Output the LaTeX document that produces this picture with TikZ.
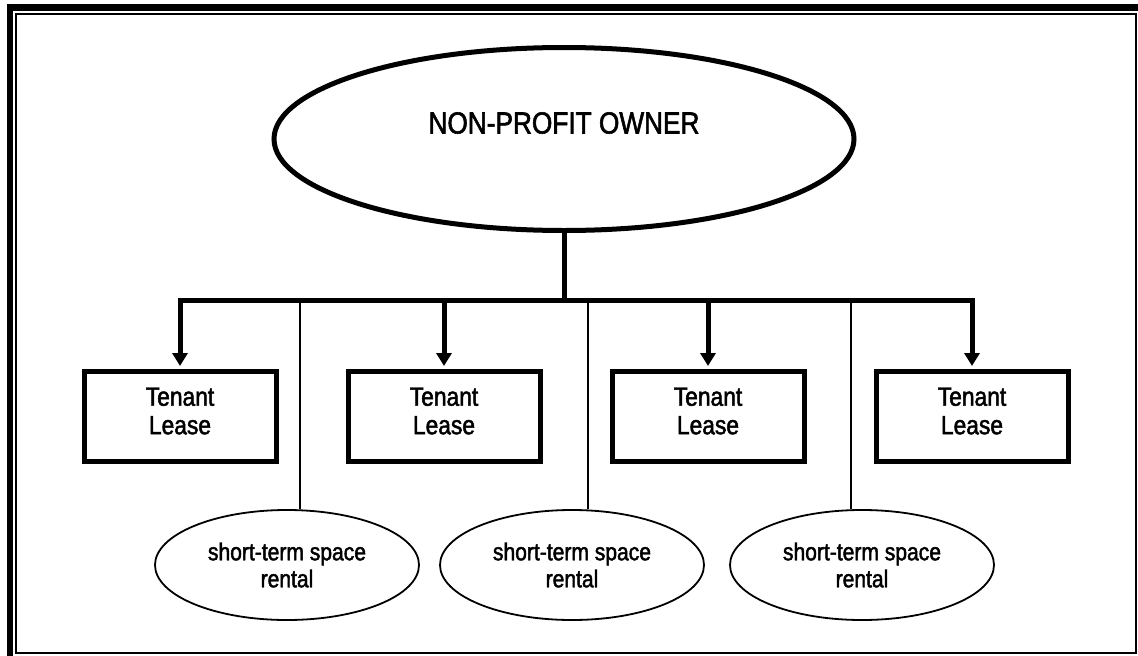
\documentclass[tikz,border=0pt]{standalone}
\usepackage{fontspec}
\setmainfont{Liberation Sans}[FakeStretch=0.86,FakeBold=1.8]
\usetikzlibrary{arrows.meta,shapes.geometric}
\begin{document}
\begin{tikzpicture}[x=1pt,y=-1pt,
  thickln/.style={line width=5pt},
  thinln/.style={line width=1.8pt},
  lease/.style={draw, line width=5pt, minimum width=192pt, minimum height=90pt, inner sep=0pt},
  leasetext/.style={align=center, font=\fontsize{26.5}{28.5}\selectfont, inner sep=0pt},
  rental/.style={draw, ellipse, line width=1.8pt, minimum width=264pt, minimum height=110pt, inner sep=0pt, align=center, font=\fontsize{24.5}{27}\selectfont},
  owner/.style={draw, ellipse, line width=5pt, minimum width=580pt, minimum height=183pt, inner sep=0pt},
  arr/.style={thickln, shorten >=2.5pt, -{Triangle[width=15pt,length=13pt]}},
]
\useasboundingbox (0,0) rectangle (1138,656);
% page frame
\fill (7,4) rectangle (1138,11);
\fill (7,4) rectangle (13,656);
\draw[line width=2pt] (15.7,13.7) rectangle (1135.5,652.8);
% owner
\node[owner] (own) at (564,139) {};
\node[font=\fontsize{30.5}{32}\selectfont, inner sep=0pt] (ownt) at (564,123) {NON-PROFIT OWNER};
% leases
\node[lease] (b1) at (180,416) {};
\node[lease] (b2) at (444,416) {};
\node[lease] (b3) at (708,416) {};
\node[lease] (b4) at (972,416) {};
\node[leasetext] (t1) at (180,411) {Tenant\\Lease};
\node[leasetext] (t2) at (444,411) {Tenant\\Lease};
\node[leasetext] (t3) at (708,411) {Tenant\\Lease};
\node[leasetext] (t4) at (972,411) {Tenant\\Lease};
% rentals
\node[rental] (r1) at (287,565) {short-term space\\rental};
\node[rental] (r2) at (572,565) {short-term space\\rental};
\node[rental] (r3) at (862,565) {short-term space\\rental};
% connectors
\coordinate (j) at (564,300);
\coordinate (s1) at (300,300);
\coordinate (s2) at (588,300);
\coordinate (s3) at (851,300);
\draw[thickln] (own.south) -- (j);
\draw[thickln, line cap=rect] (b1.north |- j) -- (b4.north |- j);
\foreach \i in {1,...,4} \draw[arr] (b\i.north |- j) -- (b\i.north);
\foreach \i in {1,2,3} \draw[thinln] (s\i) -- (s\i |- r\i.north);
\end{tikzpicture}
\end{document}
